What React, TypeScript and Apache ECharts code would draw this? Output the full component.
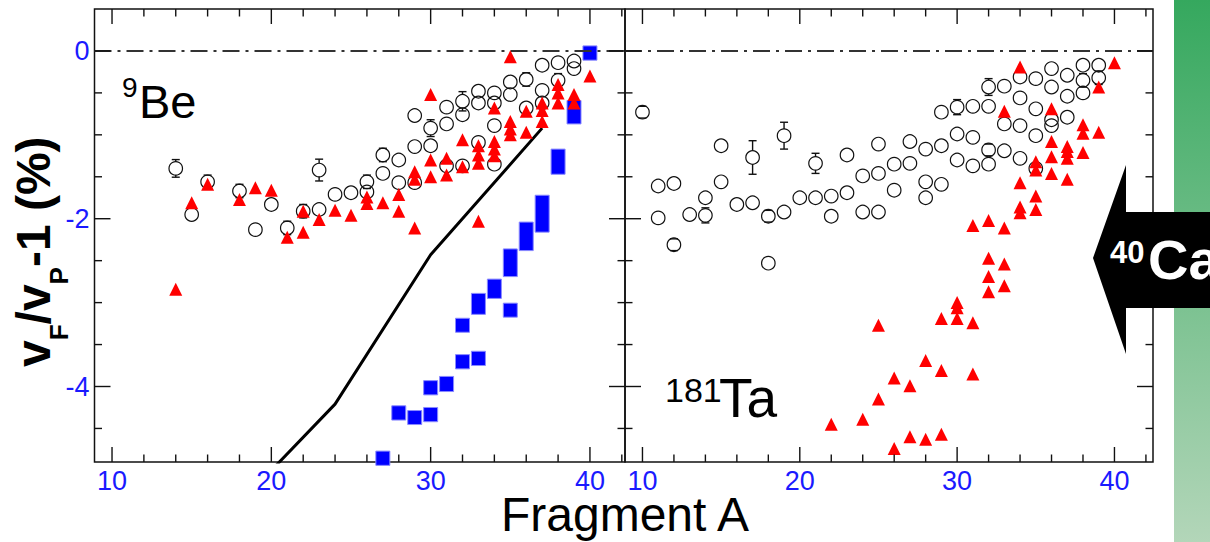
import React, { useEffect, useRef } from "react";
import * as echarts from "echarts";

// ---------- axis description ----------
const X_TICK_LABELS = [10, 20, 30, 40];
const Y_TICK_LABELS = [0, -2, -4];
const X_MAJOR_TICKS = [10, 20, 30, 40];
const X_MINOR_TICKS = [12, 14, 16, 18, 22, 24, 26, 28, 32, 34, 36, 38, 42];
const Y_MAJOR_TICKS = [0, -2, -4];
const Y_MINOR_TICKS = [-0.5, -1, -1.5, -2.5, -3, -3.5, -4.5];
const Y_MIN = -4.9;
const Y_MAX = 0.5;
const X_RANGE_BE = [8.9, 42.2];
const X_RANGE_TA = [8.89, 42.45];

// ---------- 9Be panel ----------
const beCircleA = [14, 15, 16, 18, 19, 20, 21, 22, 23, 23, 24, 25, 26, 26, 27, 27, 28, 28, 29, 29, 29, 30, 30, 31, 31, 31, 32, 32, 32, 33, 33, 33, 34, 34, 34, 34, 35, 35, 36, 36, 37, 37, 37, 38, 38, 39, 39];
const beCircleY = [-1.40, -1.95, -1.56, -1.67, -2.13, -1.83, -2.11, -1.91, -1.42, -1.89, -1.71, -1.69, -1.56, -1.68, -1.24, -1.46, -1.30, -1.57, -0.77, -1.14, -1.57, -0.92, -1.13, -0.67, -0.87, -1.37, -0.60, -0.76, -1.37, -0.48, -0.62, -1.09, -0.50, -0.62, -0.89, -1.35, -0.37, -0.52, -0.34, -0.68, -0.17, -0.47, -0.62, -0.14, -0.35, -0.12, -0.21];
const beCircleErr = [0.105, 0, 0.08, 0.08, 0, 0, 0.08, 0.08, 0.13, 0, 0, 0, 0.08, 0, 0.08, 0, 0, 0, 0, 0, 0, 0.1, 0, 0, 0, 0, 0.115, 0, 0, 0, 0, 0, 0, 0, 0, 0, 0, 0, 0.08, 0, 0, 0, 0, 0, 0.08, 0, 0];

const beTriA = [14, 15, 16, 18, 19, 20, 21, 22, 22, 23, 24, 25, 26, 26, 27, 28, 28, 29, 29, 29, 30, 30, 30, 31, 31, 32, 32, 33, 33, 33, 33, 34, 34, 34, 34, 35, 35, 35, 35, 36, 36, 37, 37, 37, 38, 38, 38, 39, 39, 40];
const beTriY = [-2.84, -1.81, -1.59, -1.77, -1.63, -1.66, -2.22, -1.91, -2.16, -2.01, -1.90, -1.96, -1.74, -1.82, -1.81, -1.71, -1.91, -1.44, -1.53, -2.11, -0.52, -1.30, -1.50, -1.28, -1.48, -1.06, -1.38, -1.13, -1.24, -1.34, -2.03, -0.68, -1.08, -1.17, -1.25, -0.07, -0.84, -0.93, -1.00, -0.72, -0.97, -0.62, -0.71, -0.84, -0.40, -0.50, -0.62, -0.52, -0.62, -0.30];

const beBoxA = [27, 28, 29, 30, 30, 31, 32, 32, 33, 33, 34, 35, 35, 36, 37, 38, 39, 40];
const beBoxHi = [-4.77, -4.23, -4.29, -3.93, -4.25, -3.88, -3.19, -3.62, -2.89, -3.58, -2.72, -2.36, -3.01, -2.04, -1.72, -1.17, -0.59, 0.06];
const beBoxLo = [-4.94, -4.40, -4.45, -4.10, -4.42, -4.06, -3.35, -3.79, -3.14, -3.75, -2.95, -2.69, -3.17, -2.38, -2.16, -1.47, -0.87, -0.11];

const beLineA = [20, 24, 30, 37];
const beLineY = [-5.0, -4.21, -2.43, -0.92];

// ---------- 181Ta panel ----------
const taCircleA = [10, 11, 11, 12, 12, 13, 14, 14, 15, 15, 16, 17, 17, 18, 18, 19, 19, 20, 21, 21, 22, 22, 23, 23, 24, 24, 25, 25, 25, 26, 26, 27, 27, 28, 28, 28, 29, 29, 29, 30, 30, 30, 31, 31, 31, 32, 32, 32, 32, 33, 33, 33, 34, 34, 34, 34, 35, 35, 35, 35, 36, 36, 36, 36, 37, 37, 37, 38, 38, 38, 39, 39];
const taCircleY = [-0.73, -1.61, -1.99, -1.58, -2.31, -1.95, -1.75, -1.96, -1.13, -1.56, -1.83, -1.27, -1.81, -1.97, -2.53, -1.01, -1.92, -1.75, -1.34, -1.75, -1.73, -1.97, -1.24, -1.69, -1.49, -1.92, -1.11, -1.46, -1.92, -1.35, -1.66, -1.08, -1.34, -1.17, -1.56, -1.75, -0.73, -1.13, -1.59, -0.67, -0.99, -1.30, -0.66, -1.03, -1.37, -0.43, -0.66, -1.18, -1.35, -0.42, -0.87, -1.19, -0.31, -0.56, -0.89, -1.28, -0.33, -0.69, -1.01, -1.40, -0.21, -0.43, -0.82, -0.89, -0.29, -0.54, -0.79, -0.17, -0.35, -0.50, -0.17, -0.32];
const taCircleErr = [0.07, 0, 0, 0, 0.07, 0, 0, 0.09, 0, 0, 0, 0.2, 0, 0.07, 0, 0.16, 0, 0, 0.12, 0, 0, 0, 0, 0, 0, 0, 0, 0, 0, 0, 0, 0, 0, 0, 0, 0, 0, 0, 0, 0.09, 0, 0, 0, 0, 0, 0.1, 0, 0.07, 0, 0, 0, 0, 0, 0, 0, 0, 0, 0, 0, 0, 0, 0, 0, 0, 0, 0, 0, 0, 0.08, 0, 0, 0.08];

const taTriA = [22, 24, 25, 25, 26, 26, 27, 27, 28, 28, 29, 29, 29, 30, 30, 30, 31, 31, 31, 32, 32, 32, 32, 33, 33, 33, 33, 34, 34, 34, 34, 35, 35, 35, 35, 36, 36, 36, 36, 37, 37, 37, 37, 38, 38, 38, 39, 39, 40];
const taTriY = [-4.45, -4.39, -3.27, -4.15, -3.90, -4.74, -3.99, -4.60, -3.69, -4.63, -3.19, -3.81, -4.57, -3.00, -3.06, -3.19, -2.08, -3.24, -3.85, -2.02, -2.47, -2.69, -2.87, -0.72, -2.11, -2.54, -2.80, -0.19, -1.57, -1.86, -1.93, -1.32, -1.42, -1.73, -1.89, -0.69, -1.08, -1.26, -1.46, -1.14, -1.20, -1.28, -1.53, -0.88, -0.98, -1.21, -0.43, -0.97, -0.14];

const FONT = '"Liberation Sans", Arial, Helvetica, sans-serif';
const BLUE = "#1a1aff";

const zip2 = (a: number[], b: number[]) => a.map((v, i) => [v, b[i]]);
const zip3 = (a: number[], b: number[], c: number[]) => a.map((v, i) => [v, b[i], c[i]]);

function xAxisCfg(gi: number, range: number[]) {
  return {
    gridIndex: gi,
    type: "value",
    min: range[0],
    max: range[1],
    splitNumber: 3,
    axisLine: { show: false },
    axisTick: { show: false },
    minorTick: { show: false },
    splitLine: { show: false },
    axisLabel: {
      show: true,
      customValues: X_TICK_LABELS,
      color: BLUE,
      fontSize: 27,
      lineHeight: 24,
      fontFamily: FONT,
      margin: 7,
      formatter: (v: number) => (X_TICK_LABELS.includes(Math.round(v * 1000) / 1000) ? String(v) : ""),
    },
  };
}

function yAxisCfg(gi: number, showLabels: boolean) {
  return {
    gridIndex: gi,
    type: "value",
    min: Y_MIN,
    max: Y_MAX,
    splitNumber: 3,
    axisLine: { show: false },
    axisTick: { show: false },
    minorTick: { show: false },
    splitLine: { show: false },
    axisLabel: {
      show: showLabels,
      customValues: Y_TICK_LABELS,
      color: BLUE,
      fontSize: 27,
      fontFamily: FONT,
      margin: 5,
      formatter: (v: number) => (Y_TICK_LABELS.includes(Math.round(v * 1000) / 1000) ? String(v) : ""),
    },
  };
}

function tickSeries(gi: number, xr: number[]) {
  const xData = [
    ...X_MAJOR_TICKS.map((v) => [v, Y_MIN, 1]),
    ...X_MINOR_TICKS.map((v) => [v, Y_MIN, 0]),
  ];
  const yData = [
    ...Y_MAJOR_TICKS.map((v) => [xr[0], v, 1]),
    ...Y_MINOR_TICKS.map((v) => [xr[0], v, 0]),
  ];
  const st = { stroke: "#111", lineWidth: 1.4 };
  return [
    {
      type: "custom",
      xAxisIndex: gi,
      yAxisIndex: gi,
      clip: false,
      silent: true,
      z: 8,
      encode: { x: 0, y: 1 },
      data: xData,
      renderItem: (_p: any, api: any) => {
        const v = api.value(0);
        const L = api.value(2) === 1 ? 15 : 7.5;
        const b = api.coord([v, Y_MIN]);
        const t = api.coord([v, Y_MAX]);
        return {
          type: "group",
          children: [
            { type: "line", shape: { x1: b[0], y1: b[1], x2: b[0], y2: b[1] - L }, style: st },
            { type: "line", shape: { x1: t[0], y1: t[1], x2: t[0], y2: t[1] + L }, style: st },
          ],
        };
      },
    },
    {
      type: "custom",
      xAxisIndex: gi,
      yAxisIndex: gi,
      clip: false,
      silent: true,
      z: 8,
      encode: { x: 0, y: 1 },
      data: yData,
      renderItem: (_p: any, api: any) => {
        const v = api.value(1);
        const L = api.value(2) === 1 ? 16 : 7.5;
        const l = api.coord([xr[0], v]);
        const r = api.coord([xr[1], v]);
        return {
          type: "group",
          children: [
            { type: "line", shape: { x1: l[0], y1: l[1], x2: l[0] + L, y2: l[1] }, style: st },
            { type: "line", shape: { x1: r[0], y1: r[1], x2: r[0] - L, y2: r[1] }, style: st },
          ],
        };
      },
    },
  ];
}

function circleSeries(gi: number, a: number[], y: number[]) {
  return {
    type: "scatter",
    xAxisIndex: gi,
    yAxisIndex: gi,
    silent: true,
    z: 4,
    symbol: "circle",
    symbolSize: 13.5,
    itemStyle: { color: "rgba(0,0,0,0)", borderColor: "#111", borderWidth: 1.2, opacity: 1 },
    data: zip2(a, y),
    markLine: {
      silent: true,
      symbol: ["none", "none"],
      label: { show: false },
      lineStyle: { color: "#333", width: 2, type: [17, 6, 3, 6] },
      data: [{ yAxis: 0 }],
    },
  };
}

function errSeries(gi: number, a: number[], y: number[], e: number[]) {
  const data = zip3(a, y, e).filter((d) => d[2] > 0);
  return {
    type: "custom",
    xAxisIndex: gi,
    yAxisIndex: gi,
    silent: true,
    z: 4,
    encode: { x: 0, y: 1 },
    data,
    renderItem: (_p: any, api: any) => {
      const A = api.value(0);
      const Y = api.value(1);
      const E = api.value(2);
      const c = api.coord([A, Y]);
      const top = api.coord([A, Y + E]);
      const bot = api.coord([A, Y - E]);
      const r = 6.7;
      const st = { stroke: "#111", lineWidth: 1.4 };
      const ch: any[] = [
        { type: "line", shape: { x1: c[0] - 4, y1: top[1], x2: c[0] + 4, y2: top[1] }, style: st },
        { type: "line", shape: { x1: c[0] - 4, y1: bot[1], x2: c[0] + 4, y2: bot[1] }, style: st },
      ];
      if (c[1] - top[1] > r) {
        ch.push({ type: "line", shape: { x1: c[0], y1: top[1], x2: c[0], y2: c[1] - r }, style: st });
        ch.push({ type: "line", shape: { x1: c[0], y1: c[1] + r, x2: c[0], y2: bot[1] }, style: st });
      }
      return { type: "group", children: ch };
    },
  };
}

function triSeries(gi: number, a: number[], y: number[]) {
  return {
    type: "scatter",
    xAxisIndex: gi,
    yAxisIndex: gi,
    silent: true,
    z: 5,
    symbol: "triangle",
    symbolSize: [13, 13],
    itemStyle: { color: "#ff0000", opacity: 1 },
    data: zip2(a, y),
  };
}

export default function App() {
  const ref = useRef<HTMLDivElement>(null);

  useEffect(() => {
    if (!ref.current) return;
    const chart = echarts.init(ref.current, undefined, { renderer: "svg" });

    const gridBase = {
      top: 9,
      height: 453,
      show: true,
      borderColor: "#111",
      borderWidth: 1.5,
      backgroundColor: "transparent",
      containLabel: false,
      outerBoundsMode: "none",
    };

    const mainFont = `bold 48px ${FONT}`;
    const subFont = `bold 26px ${FONT}`;

    const option: any = {
      animation: false,
      backgroundColor: "#ffffff",
      grid: [
        { ...gridBase, left: 94.5, width: 530.5 },
        { ...gridBase, left: 625, width: 528 },
      ],
      xAxis: [xAxisCfg(0, X_RANGE_BE), xAxisCfg(1, X_RANGE_TA)],
      yAxis: [yAxisCfg(0, true), yAxisCfg(1, false)],
      series: [
        {
          type: "line",
          xAxisIndex: 0,
          yAxisIndex: 0,
          silent: true,
          z: 2,
          clip: true,
          symbol: "none",
          lineStyle: { color: "#000", width: 3 },
          data: zip2(beLineA, beLineY),
        },
        {
          type: "custom",
          xAxisIndex: 0,
          yAxisIndex: 0,
          silent: true,
          clip: false,
          z: 3,
          encode: { x: 0, y: [1, 2] },
          data: zip3(beBoxA, beBoxHi, beBoxLo),
          renderItem: (_p: any, api: any) => {
            const A = api.value(0);
            const pt = api.coord([A, api.value(1)]);
            const pb = api.coord([A, api.value(2)]);
            let h = pb[1] - pt[1];
            const cy = (pt[1] + pb[1]) / 2;
            if (h < 14) h = 14;
            return {
              type: "rect",
              shape: { x: pt[0] - 7, y: cy - h / 2, width: 14, height: h },
              style: { fill: "#0000ff", stroke: "#8a8aff", lineWidth: 1 },
            };
          },
        },
        circleSeries(0, beCircleA, beCircleY),
        errSeries(0, beCircleA, beCircleY, beCircleErr),
        triSeries(0, beTriA, beTriY),
        circleSeries(1, taCircleA, taCircleY),
        errSeries(1, taCircleA, taCircleY, taCircleErr),
        triSeries(1, taTriA, taTriY),
        ...tickSeries(0, X_RANGE_BE),
        ...tickSeries(1, X_RANGE_TA),
      ],
      graphic: [
        // green side bar
        {
          type: "rect",
          z: 100,
          shape: { x: 1174, y: 0, width: 36, height: 542 },
          style: {
            fill: new echarts.graphic.LinearGradient(0, 0, 0, 1, [
              { offset: 0, color: "#35a85e" },
              { offset: 1, color: "#b3d6b9" },
            ]),
          },
        },
        // arrow
        {
          type: "polygon",
          z: 101,
          shape: {
            points: [
              [1093, 258],
              [1126, 165],
              [1126, 212],
              [1210, 212],
              [1210, 308],
              [1126, 308],
              [1126, 354],
            ],
          },
          style: { fill: "#000" },
        },
        {
          type: "text",
          z: 102,
          x: 1110,
          y: 252,
          style: { text: "40", font: `bold 31px ${FONT}`, fill: "#fff", align: "left", verticalAlign: "middle" },
        },
        {
          type: "text",
          z: 102,
          x: 1148,
          y: 259,
          style: { text: "Ca", font: `bold 56px ${FONT}`, fill: "#fff", align: "left", verticalAlign: "middle" },
        },
        // panel labels
        {
          type: "text",
          z: 102,
          x: 122,
          y: 87,
          style: { text: "9", font: `28px ${FONT}`, fill: "#000", align: "left", verticalAlign: "middle" },
        },
        {
          type: "text",
          z: 102,
          x: 139,
          y: 101,
          style: { text: "Be", font: `47px ${FONT}`, fill: "#000", align: "left", verticalAlign: "middle" },
        },
        {
          type: "text",
          z: 102,
          x: 665,
          y: 390,
          style: { text: "181", font: `34px ${FONT}`, fill: "#000", align: "left", verticalAlign: "middle" },
        },
        {
          type: "text",
          z: 102,
          x: 719,
          y: 398,
          style: { text: "Ta", font: `55px ${FONT}`, fill: "#000", align: "left", verticalAlign: "middle" },
        },
        // x axis title
        {
          type: "text",
          z: 102,
          x: 625,
          y: 514,
          style: {
            text: "Fragment A",
            font: `48px ${FONT}`,
            lineHeight: 34,
            fill: "#000",
            align: "center",
            verticalAlign: "middle",
          },
        },
        // y axis title (rotated)
        {
          type: "group",
          z: 102,
          x: 50,
          y: 367,
          rotation: Math.PI / 2,
          children: [
            { type: "text", x: 0, y: -16.8, style: { text: "v", font: mainFont, fill: "#000", align: "left", verticalAlign: "middle" } },
            { type: "text", x: 26.7, y: 9, style: { text: "F", font: subFont, fill: "#000", align: "left", verticalAlign: "middle" } },
            { type: "text", x: 42.6, y: -16.8, style: { text: "/v", font: mainFont, fill: "#000", align: "left", verticalAlign: "middle" } },
            { type: "text", x: 82.6, y: 9, style: { text: "P", font: subFont, fill: "#000", align: "left", verticalAlign: "middle" } },
            { type: "text", x: 99.9, y: -16.8, style: { text: "-1 (%)", font: mainFont, fill: "#000", align: "left", verticalAlign: "middle" } },
          ],
        },
      ],
    };

    chart.setOption(option);
    return () => chart.dispose();
  }, []);

  return (
    <div
      ref={ref}
      style={{ position: "absolute", left: 0, top: 0, width: 1210, height: 542, background: "#fff" }}
    />
  );
}
